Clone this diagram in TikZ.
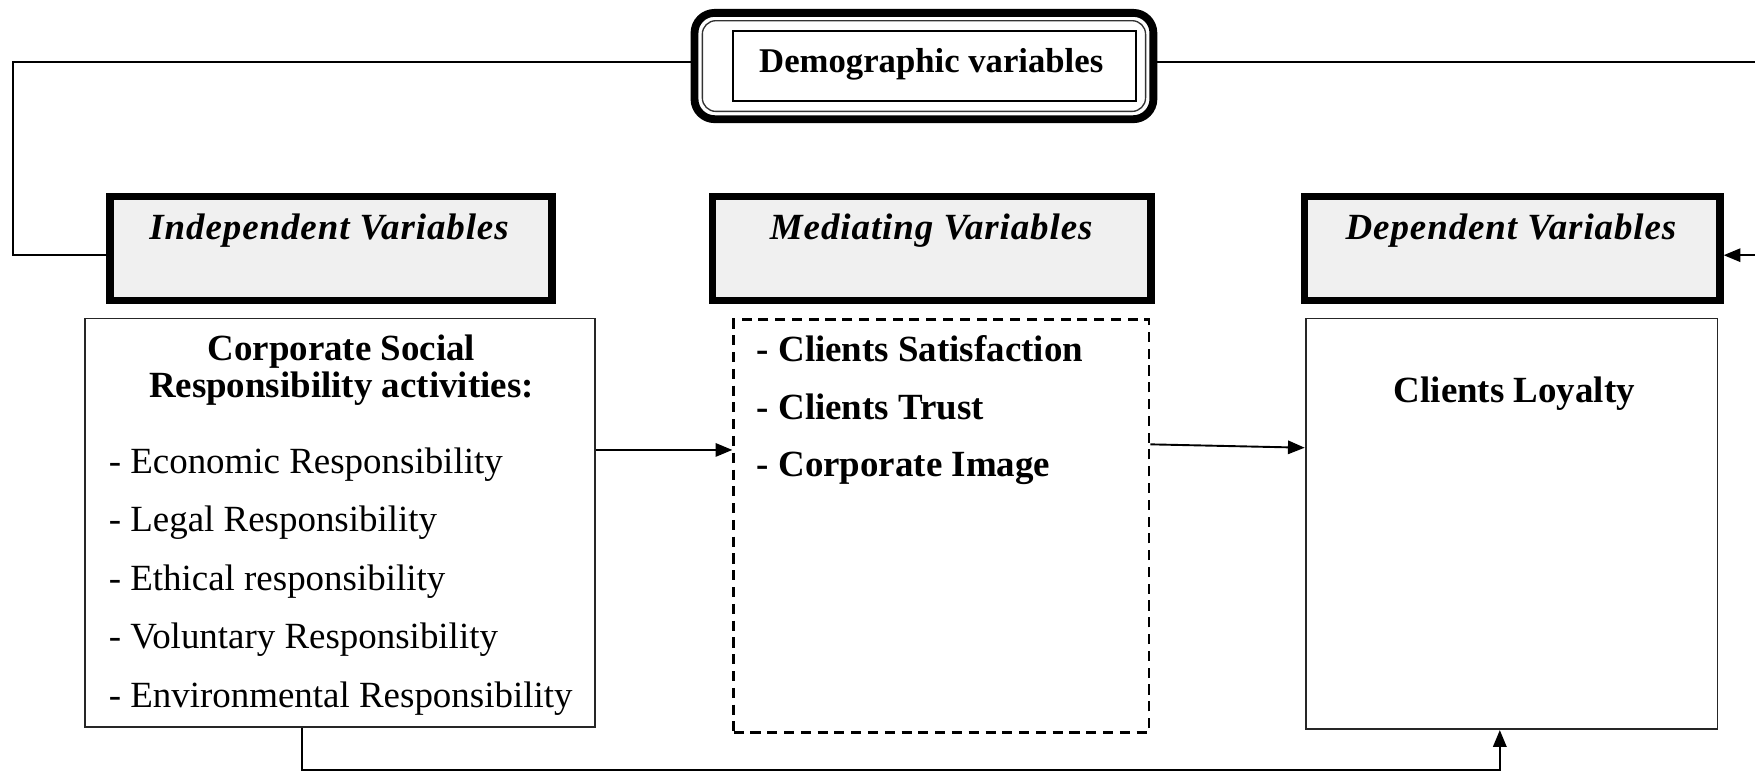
\documentclass[tikz,border=0pt]{standalone}
\usepackage{fontspec}
\setmainfont{Liberation Serif}
\usetikzlibrary{arrows.meta,calc}
\definecolor{hdrfill}{HTML}{F0F0F0}
\begin{document}
\begin{tikzpicture}[x=1pt,y=-1pt,
  base/.style={font=\fontsize{33}{40}\selectfont},
  hdr/.style={draw=black, line width=7pt, fill=hdrfill, inner sep=0pt},
  cbox/.style={draw=black!85, line width=1.6pt, inner sep=0pt},
  dbox/.style={draw=black, line width=2.4pt, dash pattern=on 9pt off 6pt, inner sep=0pt},
  hdrtext/.style={font=\fontsize{33}{40}\selectfont\bfseries\itshape\addfontfeature{LetterSpace=2.5}, inner sep=0pt},
  conn/.style={draw=black, line width=1.7pt},
  arr/.style={conn, -{Triangle[length=15pt,width=12pt]}}
]
\useasboundingbox (0,0) rectangle (1568,690.6);

% Demographic box
\node[draw=black, line width=7pt, rounded corners=18pt, minimum width=410pt, minimum height=95pt, inner sep=0pt] (demo) at (825.5,59) {};
\node[draw=black!80, line width=1.2pt, rounded corners=12pt, minimum width=396pt, minimum height=81pt, inner sep=0pt] (demoin) at (825.5,59) {};
\node[draw=black, line width=1.6pt, minimum width=360pt, minimum height=62pt, inner sep=0pt] (demotxt) at (835,59) {};
\node[font=\fontsize{31}{36}\selectfont\bfseries, inner sep=0pt] (demolab) at (832,57) {Demographic variables};

% Headers
\node[hdr, minimum width=395pt, minimum height=93pt] (ihdr) at (296,222) {};
\node[hdr, minimum width=392pt, minimum height=93pt] (mhdr) at (832.5,222) {};
\node[hdr, minimum width=371pt, minimum height=93pt] (dhdr) at (1351,222) {};
\node[hdrtext] (ihdrlab) at (294,206) {Independent Variables};
\node[hdrtext] (mhdrlab) at (832,206) {Mediating Variables};
\node[hdrtext] (dhdrlab) at (1350,206) {Dependent Variables};

% Content boxes
\node[cbox, minimum width=455.5pt, minimum height=365pt] (ibox) at (303.5,467) {};
\node[dbox, minimum width=371pt, minimum height=369pt] (mbox) at (841,470) {};
\node[cbox, minimum width=368pt, minimum height=367pt] (depbox) at (1350.5,468) {};

% Texts
\node[font=\fontsize{33}{33}\selectfont\bfseries, align=center, inner sep=0pt] (ititle) at (305,331) {Corporate Social\\Responsibility activities:};
\node[font=\fontsize{33}{52.25}\selectfont, align=left, anchor=west, inner sep=0pt] (iitems) at (97,519.5)
  {- Economic Responsibility\\- Legal Responsibility\\- Ethical responsibility\\- Voluntary Responsibility\\- Environmental Responsibility};
\node[font=\fontsize{33}{51.5}\selectfont\bfseries, align=left, anchor=west, inner sep=0pt] (mitems) at (676,366.5)
  {- Clients Satisfaction\\- Clients Trust\\- Corporate Image};
\node[font=\fontsize{33}{40}\selectfont\bfseries, inner sep=0pt] (dlab) at (1353,352) {Clients Loyalty};

% Connectors
\coordinate (lc1) at (12,55);
\coordinate (lc2) at (12,228);
\draw[conn] ([yshift=4pt]demo.west) -- (lc1) -- (lc2) -- (lc2 -| ihdr.west);
\coordinate (rc1) at (1600,55);
\coordinate (rc2) at (1600,228);
\draw[arr] ([yshift=4pt]demo.east) -- (rc1) -- (rc2) -- (rc2 -| dhdr.east);

\coordinate (a1) at (0,402);
\draw[arr] (a1 -| ibox.east) -- (a1 -| mbox.west);
\coordinate (a2) at (0,397);
\coordinate (a3) at (0,400);
\draw[arr] (a2 -| mbox.east) -- (a3 -| depbox.west);

\coordinate (b0) at (270,688);
\coordinate (b1) at (1340,688);
\draw[arr] (b0 |- ibox.south) -- (b0) -- (b1) -- (b1 |- depbox.south);
\end{tikzpicture}
\end{document}
